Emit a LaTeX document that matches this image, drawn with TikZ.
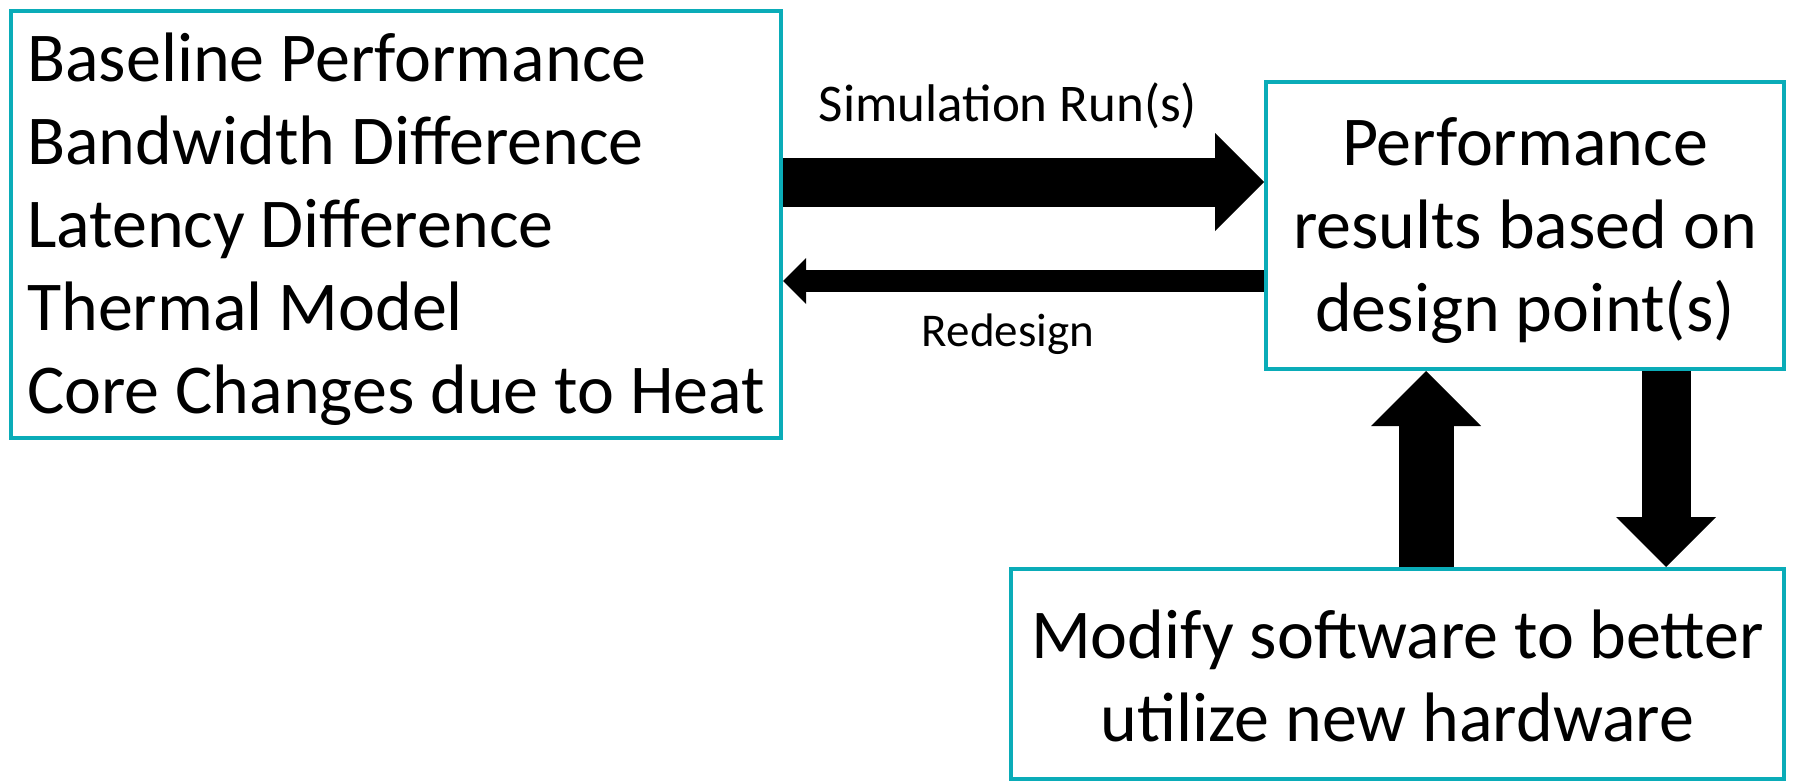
\documentclass[tikz,border=0pt]{standalone}
\usepackage{fontspec}
\setmainfont{Carlito}
\usetikzlibrary{arrows.meta}
\definecolor{boxteal}{RGB}{10,172,184}
% strut that lowers a centred text block by half of #1
\newcommand{\lowerby}[1]{\rule{0pt}{\dimexpr\fontcharht\font`\l+#1\relax}}
\begin{document}
\begin{tikzpicture}[x=1pt,y=-1pt,
  box/.style={draw=boxteal, line width=4pt, rectangle, inner sep=0pt,
    font=\fontsize{70}{83}\selectfont},
  blockarrow/.style 2 args={line width=#1, draw=black,
    -{Triangle[width=#2, length=#2/2, line width=0pt]}},
  label/.style={anchor=base, inner sep=0pt}]
\useasboundingbox (0,0) rectangle (1794,782);

% boxes
\node[box, minimum width=770pt, minimum height=427pt, align=left] (inputs) at (396,224.5)
  {\lowerby{9pt}Baseline Performance\\Bandwidth Difference\\Latency Difference\\Thermal Model\\Core Changes due to Heat};
\node[box, minimum width=518pt, minimum height=287pt, align=center] (results) at (1525,225.5)
  {\lowerby{10pt}Performance\\results based on\\design point(s)};
\node[box, minimum width=773pt, minimum height=210pt, align=center] (modify) at (1397.5,674)
  {\lowerby{4pt}Modify software to better\\utilize new hardware};

% levels of the block arrows
\coordinate (simY) at (0,182);
\coordinate (redY) at (0,281);
\coordinate (upX) at (1426,0);
\coordinate (downX) at (1666,0);

% connectors
\draw[blockarrow={49pt}{98pt}] (inputs.east |- simY) -- (results.west |- simY);
\draw[blockarrow={22pt}{46pt}] (results.west |- redY) -- (inputs.east |- redY);
\draw[blockarrow={55pt}{110pt}] (modify.north -| upX) -- (results.south -| upX);
\draw[blockarrow={49pt}{100pt}] (results.south -| downX) -- (modify.north -| downX);

% labels
\node[label, font=\fontsize{53}{60}\selectfont] (simlabel) at (1008,121) {Simulation Run(s)};
\node[label, font=\fontsize{47}{55}\selectfont] (redlabel) at (1008,346) {Redesign};
\end{tikzpicture}
\end{document}
